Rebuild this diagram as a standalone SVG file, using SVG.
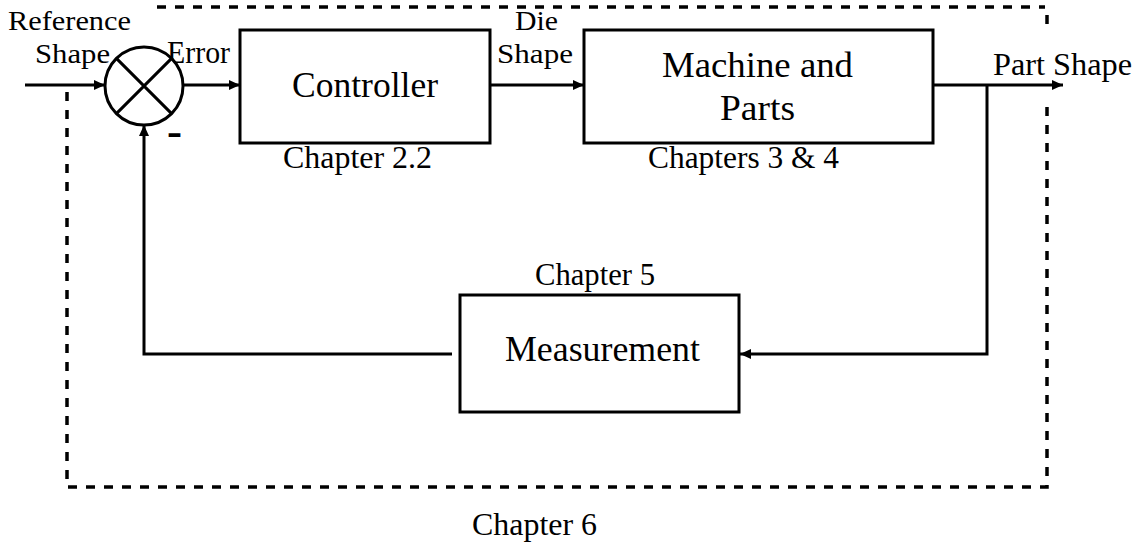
<svg xmlns="http://www.w3.org/2000/svg" width="1137" height="544" viewBox="0 0 1137 544">
<style>
  .box { fill: #fff; stroke: #000; stroke-width: 3; }
  .line { fill: none; stroke: #000; stroke-width: 3; }
  .dash { fill: none; stroke: #000; stroke-width: 3.5; stroke-dasharray: 9 9; }
  .lbl { font-family: "Liberation Serif", "Times New Roman", serif; font-size: 31px; fill: #000; }
  .sm { font-family: "Liberation Serif", "Times New Roman", serif; font-size: 27px; fill: #000; }
  .big { font-family: "Liberation Serif", "Times New Roman", serif; font-size: 36px; fill: #000; }
</style>
<defs>
  <marker id="arr" markerUnits="userSpaceOnUse" markerWidth="12" markerHeight="10" refX="11" refY="5" orient="auto">
    <path d="M0,0 L11,5 L0,10 z" fill="#000"/>
  </marker>
</defs>
<rect width="1137" height="544" fill="#fff"/>

<g id="boundary">
  <path class="dash" d="M157,7 H1045"/>
  <path class="dash" d="M1047,15 V26"/>
  <path class="dash" d="M1047,107 V487 H67 V88"/>
  <text class="lbl" x="472" y="535" textLength="125" lengthAdjust="spacingAndGlyphs">Chapter 6</text>
</g>

<g id="connectors">
  <path class="line" d="M25,85 H105" marker-end="url(#arr)"/>
  <path class="line" d="M183,85 H240" marker-end="url(#arr)"/>
  <path class="line" d="M490,85 H584" marker-end="url(#arr)"/>
  <path class="line" d="M933,85 H1063" marker-end="url(#arr)"/>
  <path class="line" d="M987,85 V354 H740" marker-end="url(#arr)"/>
  <path class="line" d="M452,354 H144 V125" marker-end="url(#arr)"/>
</g>

<g id="labels">
  <text class="sm" x="8" y="30" textLength="123" lengthAdjust="spacingAndGlyphs">Reference</text>
  <text class="sm" x="35" y="63" textLength="75" lengthAdjust="spacingAndGlyphs">Shape</text>
  <text class="lbl" x="167" y="63" textLength="63" lengthAdjust="spacingAndGlyphs">Error</text>
  <text class="sm" x="515" y="30" textLength="43" lengthAdjust="spacingAndGlyphs">Die</text>
  <text class="sm" x="497" y="63" textLength="76" lengthAdjust="spacingAndGlyphs">Shape</text>
  <text class="lbl" x="993" y="75" textLength="139" lengthAdjust="spacingAndGlyphs">Part Shape</text>
  <text x="167" y="146" font-family="Liberation Serif, serif" font-size="44" font-weight="bold" textLength="15" lengthAdjust="spacingAndGlyphs">-</text>
</g>

<g id="sum">
  <circle cx="144" cy="86" r="39" fill="#fff" stroke="#000" stroke-width="3"/>
  <path class="line" d="M116.4,58.4 L171.6,113.6 M171.6,58.4 L116.4,113.6"/>
</g>

<g id="controller">
  <rect class="box" x="240" y="30" width="250" height="113"/>
  <text class="big" x="292" y="97" textLength="146" lengthAdjust="spacingAndGlyphs">Controller</text>
  <text class="lbl" x="283" y="168" textLength="149" lengthAdjust="spacingAndGlyphs">Chapter 2.2</text>
</g>

<g id="machine">
  <rect class="box" x="584" y="30" width="349" height="113"/>
  <text class="big" x="662" y="77" textLength="191" lengthAdjust="spacingAndGlyphs">Machine and</text>
  <text class="big" x="720" y="120" textLength="75" lengthAdjust="spacingAndGlyphs">Parts</text>
  <text class="lbl" x="648" y="168" textLength="191" lengthAdjust="spacingAndGlyphs">Chapters 3 &amp; 4</text>
</g>

<g id="measurement">
  <rect class="box" x="460" y="295" width="279" height="117"/>
  <text class="big" x="505" y="361" textLength="195" lengthAdjust="spacingAndGlyphs">Measurement</text>
  <text class="lbl" x="535" y="285" textLength="120" lengthAdjust="spacingAndGlyphs">Chapter 5</text>
</g>
</svg>
